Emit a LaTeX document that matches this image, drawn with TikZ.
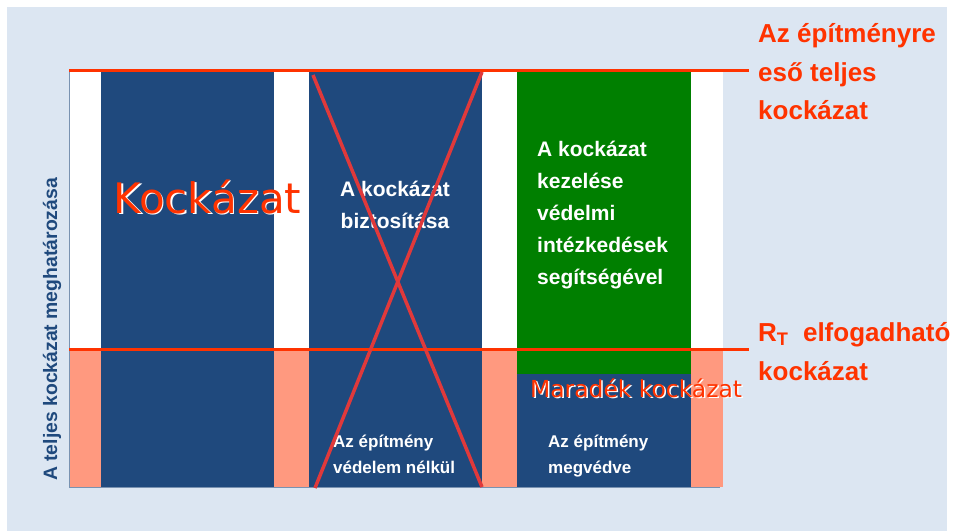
\documentclass[tikz,border=0pt]{standalone}
\usepackage{fontspec}
\setmainfont{Liberation Sans}
\newfontfamily\verdana{DejaVu Sans}
\definecolor{bgblue}{HTML}{DCE6F2}
\definecolor{colblue}{HTML}{1F497D}
\definecolor{salmon}{HTML}{FF997F}
\definecolor{riskred}{HTML}{FF3300}
\definecolor{crossred}{HTML}{E0393B}
\definecolor{keepgreen}{HTML}{007F00}

\begin{document}
\begin{tikzpicture}[x=1pt,y=-1pt,
	col text/.style={text=white,font=\bfseries\fontsize{21}{32}\selectfont,inner sep=0pt},
	small text/.style={text=white,font=\bfseries\fontsize{17}{26}\selectfont,inner sep=0pt,align=left,anchor=base west},
	side text/.style={text=riskred,font=\bfseries\fontsize{26}{38.5}\selectfont,inner sep=0pt,align=left,anchor=base west},
	risk line/.style={riskred,line width=3pt},
	cross line/.style={crossred,line width=3.5pt}]

	\useasboundingbox (0,0) rectangle (953,532);
	\fill[white] (0,0) rectangle (953,532);
	\fill[bgblue] (7,7) rectangle (947,531);

	% columns
	\fill[white] (69,71) rectangle (723,349);
	\fill[salmon] (69,349) rectangle (723,487);
	\fill[colblue] (101,71) rectangle (274,487);
	\fill[colblue] (309,71) rectangle (482,487);
	\fill[colblue] (517,374) rectangle (691,487);
	\fill[keepgreen] (517,71) rectangle (691,374);
	\draw[colblue!60,line width=1pt] (69,71) -- (69,487) -- (720,487);

	% texts (base = last line)
	\node[text=white,font=\verdana\fontsize{42}{50}\selectfont,inner sep=0pt,anchor=base] (riskshadow) at (209,214.5) {Kockázat};
	\node[text=riskred,font=\verdana\fontsize{42}{50}\selectfont,inner sep=0pt,anchor=base] (risk) at (207.5,213) {Kockázat};
	\node[col text,align=center,anchor=base] (insure) at (395,228) {A kockázat\\biztosítása};
	\node[col text,align=left,anchor=base west] (treat) at (537,284) {A kockázat\\kezelése\\védelmi\\intézkedések\\segítségével};
	\node[small text] (unprot) at (333,473) {Az építmény\\védelem nélkül};
	\node[small text] (prot) at (548,473) {Az építmény\\megvédve};
	\node[text=white,font=\verdana\fontsize{23.4}{28}\selectfont,inner sep=0pt,anchor=base west] (restshadow) at (531.5,398.5) {Maradék kockázat};
	\node[text=riskred,font=\verdana\fontsize{23.4}{28}\selectfont,inner sep=0pt,anchor=base west] (rest) at (530,397) {Maradék kockázat};
	\node[side text] (total) at (758,120) {Az építményre\\eső teljes\\kockázat};
	\node[side text] (accept) at (758,380) {R\textsubscript{T}\ \ elfogadható\\kockázat};
	\node[text=colblue,font=\bfseries\fontsize{19.4}{23}\selectfont,inner sep=0pt,anchor=base,rotate=90] (axis) at (57,329.5) {A teljes kockázat meghatározása};

	% lines
	\coordinate (topleft) at (69,71);
	\coordinate (topright) at (749,71);
	\coordinate (midleft) at (69,349);
	\coordinate (midright) at (749,349);
	\draw[risk line] (topleft) -- (topright);
	\draw[risk line] (midleft) -- (midright);

	\coordinate (x1) at (313,75);
	\coordinate (x2) at (482,487);
	\coordinate (x3) at (482,72);
	\coordinate (x4) at (315,488);
	\draw[cross line] (x1) -- (x2);
	\draw[cross line] (x3) -- (x4);

\end{tikzpicture}
\end{document}
